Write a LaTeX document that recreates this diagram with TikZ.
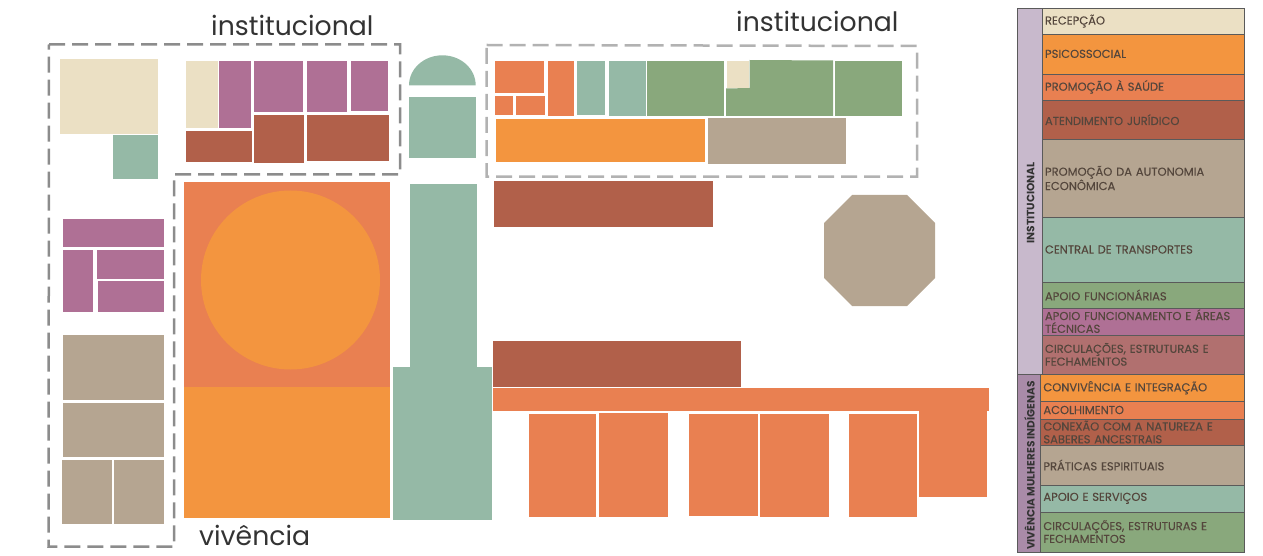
\documentclass[tikz,border=0pt]{standalone}
\usepackage{fontspec}
\setmainfont{Poppins}
\newfontfamily\legfont[FakeBold=0.2]{Poppins}
\definecolor{cream}{HTML}{EBE0C4}
\definecolor{orng}{HTML}{F3953F}
\definecolor{coral}{HTML}{E98051}
\definecolor{brwn}{HTML}{B1604A}
\definecolor{tann}{HTML}{B5A591}
\definecolor{teal2}{HTML}{95B9A6}
\definecolor{grn}{HTML}{89A87C}
\definecolor{purp}{HTML}{AF7095}
\definecolor{rosy}{HTML}{B1706F}
\definecolor{lilac}{HTML}{C8B9CC}
\definecolor{purcol}{HTML}{A98BA8}
\definecolor{legline}{HTML}{5A5A5A}
\definecolor{legtext}{HTML}{54463C}
\newcommand{\bx}[5]{\fill[#1] (#2,#3) rectangle (#4,#5);}
\newcommand{\legrow}[6]{\draw[legrow,fill=#1] (#2,#3) rectangle (1244.3,#4); \node[legtext] (#5) at (#2+2.5,{(#3+#4)/2-0.5}) {#6};}
\tikzset{
  x=1pt,y=-1pt,
  zone/.style={line width=2.5pt,dash pattern=on 16pt off 7pt,line join=miter},
  bigtext/.style={font=\fontsize{26.7}{27}\selectfont,anchor=base west,inner sep=0pt,text=black!80},
  legrow/.style={draw=legline,line width=0.9pt},
  legtext/.style={font=\legfont\fontsize{11.5}{12.8}\selectfont,anchor=west,inner sep=0pt,text=legtext,align=left,text width=200pt},
  legside/.style={font=\bfseries\fontsize{10.6}{10.6}\selectfont,inner sep=0pt,rotate=90,text=black!80}
}
\begin{document}
\begin{tikzpicture}
\useasboundingbox (0,0) rectangle (1263,556);
% left block
\bx{cream}{60.3}{58.7}{158}{134}
\bx{teal2}{112.7}{135}{157.5}{179}
\bx{cream}{186}{61.3}{217.7}{128.3}
\bx{purp}{219.3}{61}{251}{128}
\bx{purp}{254}{61}{303.3}{112.3}
\bx{purp}{307}{61}{347}{112}
\bx{purp}{351}{61.3}{388}{111}
\bx{brwn}{186}{131}{251.7}{161.7}
\bx{brwn}{254}{115}{303.7}{162.7}
\bx{brwn}{307}{115}{388.7}{161}
\bx{purp}{63}{219.3}{164}{246.7}
\bx{purp}{63}{250}{93.3}{312.3}
\bx{purp}{97}{249.7}{164}{279.3}
\bx{purp}{97.7}{280.7}{163.7}{312}
\bx{tann}{62.7}{334.7}{164.3}{400.3}
\bx{tann}{63.3}{403.3}{164}{457.3}
\bx{tann}{62}{460}{112}{523.7}
\bx{tann}{114}{460}{164}{523.7}
% centre block
\bx{coral}{184}{182}{390}{387}
\bx{orng}{184}{387}{390}{518}
\fill[orng] (290.5,280) circle (89.5);
\fill[teal2] (409,85.3) .. controls (409,68.7) and (424,55.3) .. (442.4,55.3) .. controls (460.8,55.3) and (475.7,68.7) .. (475.7,85.3) -- cycle;
\bx{teal2}{409}{96.7}{475.7}{158.3}
\bx{teal2}{409.5}{184}{477}{367}
\bx{teal2}{393}{367}{492}{520}
% top right block
\bx{coral}{495}{61}{544}{92.7}
\bx{coral}{495}{96}{513}{115}
\bx{coral}{516}{96}{545}{115}
\bx{coral}{547.7}{61}{574}{116}
\bx{teal2}{576.7}{61}{605}{115.5}
\bx{teal2}{609}{61}{645.7}{116}
\bx{grn}{647.3}{61}{724}{116}
\fill[grn] (749.5,60) -- (833,60.5) -- (833,116) -- (726,116) -- (726,88.5) -- (749.5,88) -- cycle;
\bx{cream}{726.7}{60.7}{749}{87.7}
\bx{grn}{835}{61}{902}{116}
\bx{orng}{496}{118.7}{705}{161.7}
\bx{tann}{707.7}{117.7}{845.7}{163.7}
\bx{brwn}{494}{181}{712.7}{227}
\fill[tann] (852,195) -- (907,195) -- (935,223) -- (935,278) -- (907,306) -- (852,306) -- (824,278) -- (824,223) -- cycle;
% bottom right block
\bx{brwn}{493.3}{340.7}{741.3}{386.7}
\bx{coral}{493.3}{387.7}{989}{411.3}
\bx{coral}{529.3}{414}{596.3}{516.7}
\bx{coral}{599.3}{413.3}{668}{517.3}
\bx{coral}{689.3}{414}{758}{516.3}
\bx{coral}{760}{414}{828.7}{517.3}
\bx{coral}{849.3}{414}{917}{517}
\bx{coral}{919}{411}{986.7}{496.7}
% dashed zones
\draw[zone,draw=black!45] (49,44.3) -- (400,44.3) -- (400,174.3) -- (174,174.3) -- (174,546.7) -- (48.5,546.7) -- cycle;
\draw[zone,draw=black!30] (486.7,45) -- (917,46) -- (917,176.7) -- (486.7,176.7) -- cycle;
% titles
\node[bigtext] (t1) at (211,35.5) {institucional};
\node[bigtext] (t2) at (736,32) {institucional};
\node[bigtext] (t3) at (199,545) {vivência};
% legend
\draw[legrow,fill=lilac] (1017.3,8.5) rectangle (1042.3,374.7);
\draw[legrow,fill=purcol] (1017.3,374.7) rectangle (1040.7,552);
\node[legside] (s1) at (1030.5,203) {INSTITUCIONAL};
\node[legside] (s2) at (1029.5,465.5) {VIVÊNCIA MULHERES INDÍGENAS};
\legrow{cream}{1042.3}{8.5}{34.7}{a1}{RECEPÇÃO}
\legrow{orng}{1042.3}{34.7}{74}{a2}{PSICOSSOCIAL}
\legrow{coral}{1042.3}{74}{100.7}{a3}{PROMOÇÃO À SAÚDE}
\legrow{brwn}{1042.3}{100.7}{139.7}{a4}{ATENDIMENTO JURÍDICO}
\legrow{tann}{1042.3}{139.7}{217.3}{a5}{PROMOÇÃO DA AUTONOMIA\\ECONÔMICA}
\legrow{teal2}{1042.3}{217.3}{282.7}{a6}{CENTRAL DE TRANSPORTES}
\legrow{grn}{1042.3}{282.7}{308.3}{a7}{APOIO FUNCIONÁRIAS}
\legrow{purp}{1042.3}{308.3}{335}{a8}{APOIO FUNCIONAMENTO E ÁREAS\\TÉCNICAS}
\legrow{rosy}{1042.3}{335}{374.7}{a9}{CIRCULAÇÕES, ESTRUTURAS E\\FECHAMENTOS}
\legrow{orng}{1040.7}{374.7}{401.7}{b1}{CONVIVÊNCIA E INTEGRAÇÃO}
\legrow{coral}{1040.7}{401.7}{419.3}{b2}{ACOLHIMENTO}
\legrow{brwn}{1040.7}{419.3}{445.7}{b3}{CONEXÃO COM A NATUREZA E\\SABERES ANCESTRAIS}
\legrow{tann}{1040.7}{445.7}{485.3}{b4}{PRÁTICAS ESPIRITUAIS}
\legrow{teal2}{1040.7}{485.3}{512.3}{b5}{APOIO E SERVIÇOS}
\legrow{grn}{1040.7}{512.3}{552}{b6}{CIRCULAÇÕES, ESTRUTURAS E\\FECHAMENTOS}
\end{tikzpicture}
\end{document}
